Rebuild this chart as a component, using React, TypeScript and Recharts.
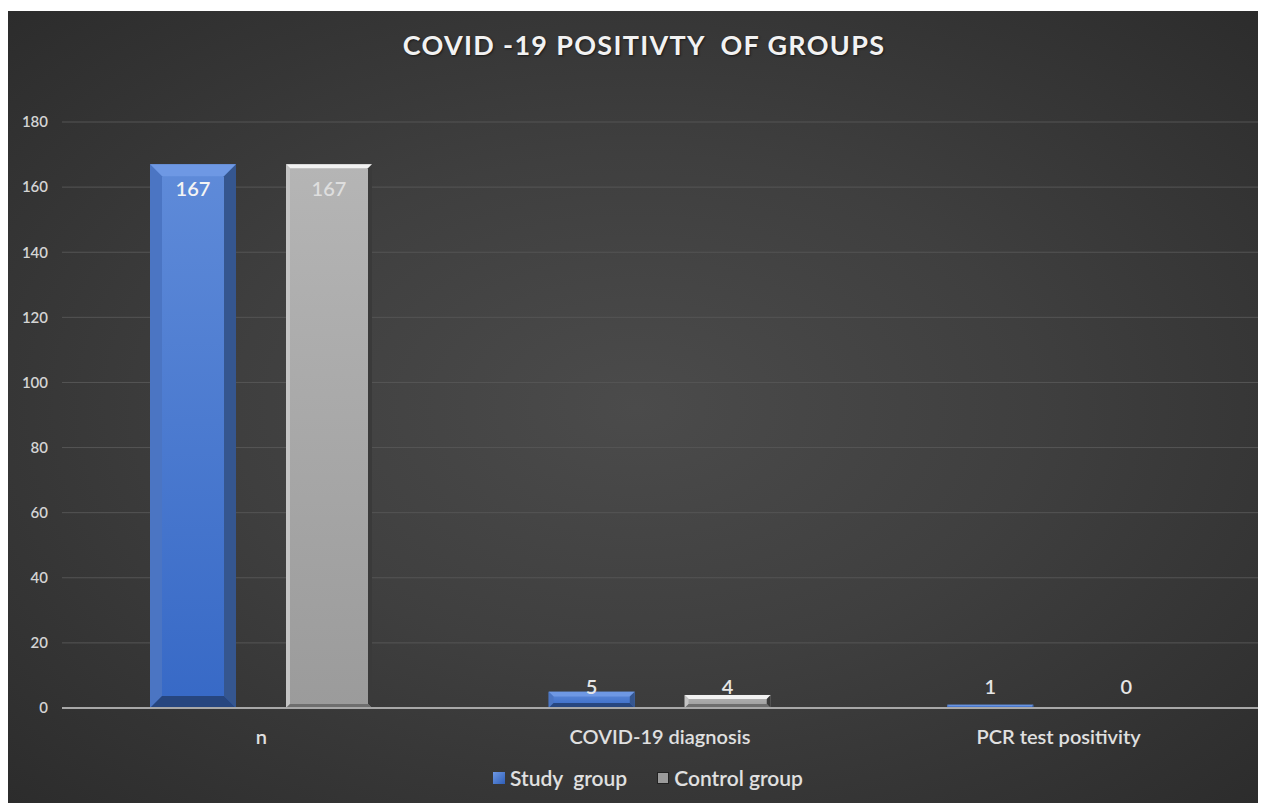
import React from 'react';
import {
  BarChart,
  Bar,
  XAxis,
  YAxis,
  CartesianGrid,
  LabelList,
} from 'recharts';

const categories = ['n', 'COVID-19 diagnosis', 'PCR test positivity'];
const studyGroup = [167, 5, 1];
const controlGroup = [167, 4, 0];
const yTicks = [0, 20, 40, 60, 80, 100, 120, 140, 160, 180];

const data = categories.map((name, i) => ({
  name,
  study: studyGroup[i],
  control: controlGroup[i],
}));

const FONT = 'Lato, "Open Sans", sans-serif';

type Palette = {
  id: string;
  faceTop: string;
  faceBottom: string;
  top: string;
  left: string;
  right: string;
  bottom: string;
  bevel: number;
};

const studyPalette: Palette = {
  id: 'studyFace',
  faceTop: '#5f8bd9',
  faceBottom: '#3769c6',
  top: '#6e98e4',
  left: '#4b75c3',
  right: '#35568f',
  bottom: '#27467f',
  bevel: 12,
};

const controlPalette: Palette = {
  id: 'controlFace',
  faceTop: '#b5b5b5',
  faceBottom: '#9b9b9b',
  top: '#f2f2f2',
  left: '#c4c4c4',
  right: '#3a3a3a',
  bottom: '#6e6e6e',
  bevel: 4,
};

const makeShape = (p: Palette) => (props: any) => {
  const { x, y, width: w, height: h } = props;
  if (!h || h <= 0) return <g />;
  const b = Math.min(p.bevel, h * 0.3, w / 4);
  const pts = (arr: number[][]) => arr.map((q) => q.join(',')).join(' ');
  return (
    <g>
      <rect x={x} y={y} width={w} height={h} fill={`url(#${p.id})`} />
      <polygon points={pts([[x, y], [x + w, y], [x + w - b, y + b], [x + b, y + b]])} fill={p.top} />
      <polygon points={pts([[x, y], [x + b, y + b], [x + b, y + h - b], [x, y + h]])} fill={p.left} />
      <polygon points={pts([[x + w, y], [x + w, y + h], [x + w - b, y + h - b], [x + w - b, y + b]])} fill={p.right} />
      <polygon points={pts([[x, y + h], [x + b, y + h - b], [x + w - b, y + h - b], [x + w, y + h]])} fill={p.bottom} />
    </g>
  );
};

const makeLabel = (insideColor: string) => (props: any) => {
  const { x, y, width, height, value } = props;
  const cx = x + width / 2;
  const zeroY = y + height;
  const inside = height > 60;
  const ly = inside ? y + 24 : Math.min(y - 6, zeroY - 22);
  return (
    <text
      x={cx}
      y={ly}
      textAnchor="middle"
      dominantBaseline="central"
      fill={inside ? insideColor : '#e6e6e6'}
      fontSize={20}
      fontWeight={600}
      fontFamily={FONT}
    >
      {value}
    </text>
  );
};

export default function App() {
  return (
    <div
      style={{
        position: 'relative',
        marginTop: 3,
        width: 1256,
        height: 792,
        background: 'radial-gradient(ellipse at 50% 50%, #4b4b4b 0%, #3f3f3f 45%, #2c2c2c 100%)',
        fontFamily: FONT,
      }}
    >
      <style>{'html,body{overflow:hidden}'}</style>
      <div
        style={{
          position: 'absolute',
          top: 17,
          left: 0,
          width: '100%',
          paddingLeft: 16,
          boxSizing: 'border-box',
          textAlign: 'center',
          color: '#f2f2f2',
          fontSize: 27,
          fontWeight: 700,
          letterSpacing: 1.3,
          whiteSpace: 'pre',
          textShadow: '1px 1px 2px #1a1a1a',
        }}
      >
        {'COVID -19 POSITIVTY  OF GROUPS'}
      </div>
      <BarChart
        width={1256}
        height={792}
        data={data}
        margin={{ top: 111, right: 6, left: 0, bottom: 65 }}
        barSize={86}
        barGap={50}
        style={{ position: 'absolute', top: 0, left: 0 }}
      >
        <defs>
          {[studyPalette, controlPalette].map((p) => (
            <linearGradient key={p.id} id={p.id} x1="0" y1="0" x2="0" y2="1">
              <stop offset="0%" stopColor={p.faceTop} />
              <stop offset="100%" stopColor={p.faceBottom} />
            </linearGradient>
          ))}
        </defs>
        <CartesianGrid vertical={false} stroke="#555555" strokeWidth={1} />
        <XAxis
          dataKey="name"
          height={30}
          axisLine={{ stroke: '#a8a8a8', strokeWidth: 2 }}
          tickLine={false}
          tickMargin={16}
          tick={{ fill: '#e0e0e0', fontSize: 20, fontWeight: 600, fontFamily: FONT }}
        />
        <YAxis
          width={54}
          domain={[0, 180]}
          ticks={yTicks}
          axisLine={false}
          tickLine={false}
          tickMargin={8}
          tick={{ fill: '#d4d4d4', fontSize: 15, fontWeight: 600, fontFamily: FONT }}
        />
        <Bar dataKey="study" shape={makeShape(studyPalette)} isAnimationActive={false}>
          <LabelList dataKey="study" content={makeLabel('#f4f4f4')} />
        </Bar>
        <Bar dataKey="control" shape={makeShape(controlPalette)} isAnimationActive={false}>
          <LabelList dataKey="control" content={makeLabel('#dedede')} />
        </Bar>
      </BarChart>
      <div
        style={{
          position: 'absolute',
          top: 754,
          left: 0,
          width: '100%',
          display: 'flex',
          justifyContent: 'center',
          alignItems: 'center',
          gap: 30,
          color: '#e0e0e0',
          fontSize: 21,
          fontWeight: 600,
          paddingLeft: 24,
          boxSizing: 'border-box',
        }}
      >
        <span style={{ display: 'flex', alignItems: 'center' }}>
          <span
            style={{
              width: 12,
              height: 12,
              marginRight: 5,
              background: 'linear-gradient(135deg, #6e98e4, #2f5fb8)',
            }}
          />
          <span style={{ whiteSpace: 'pre' }}>{'Study  group'}</span>
        </span>
        <span style={{ display: 'flex', alignItems: 'center' }}>
          <span
            style={{
              width: 12,
              height: 12,
              marginRight: 5,
              background: '#9b9b9b',
              border: '1px solid #222',
              boxSizing: 'border-box',
            }}
          />
          <span>Control group</span>
        </span>
      </div>
    </div>
  );
}
